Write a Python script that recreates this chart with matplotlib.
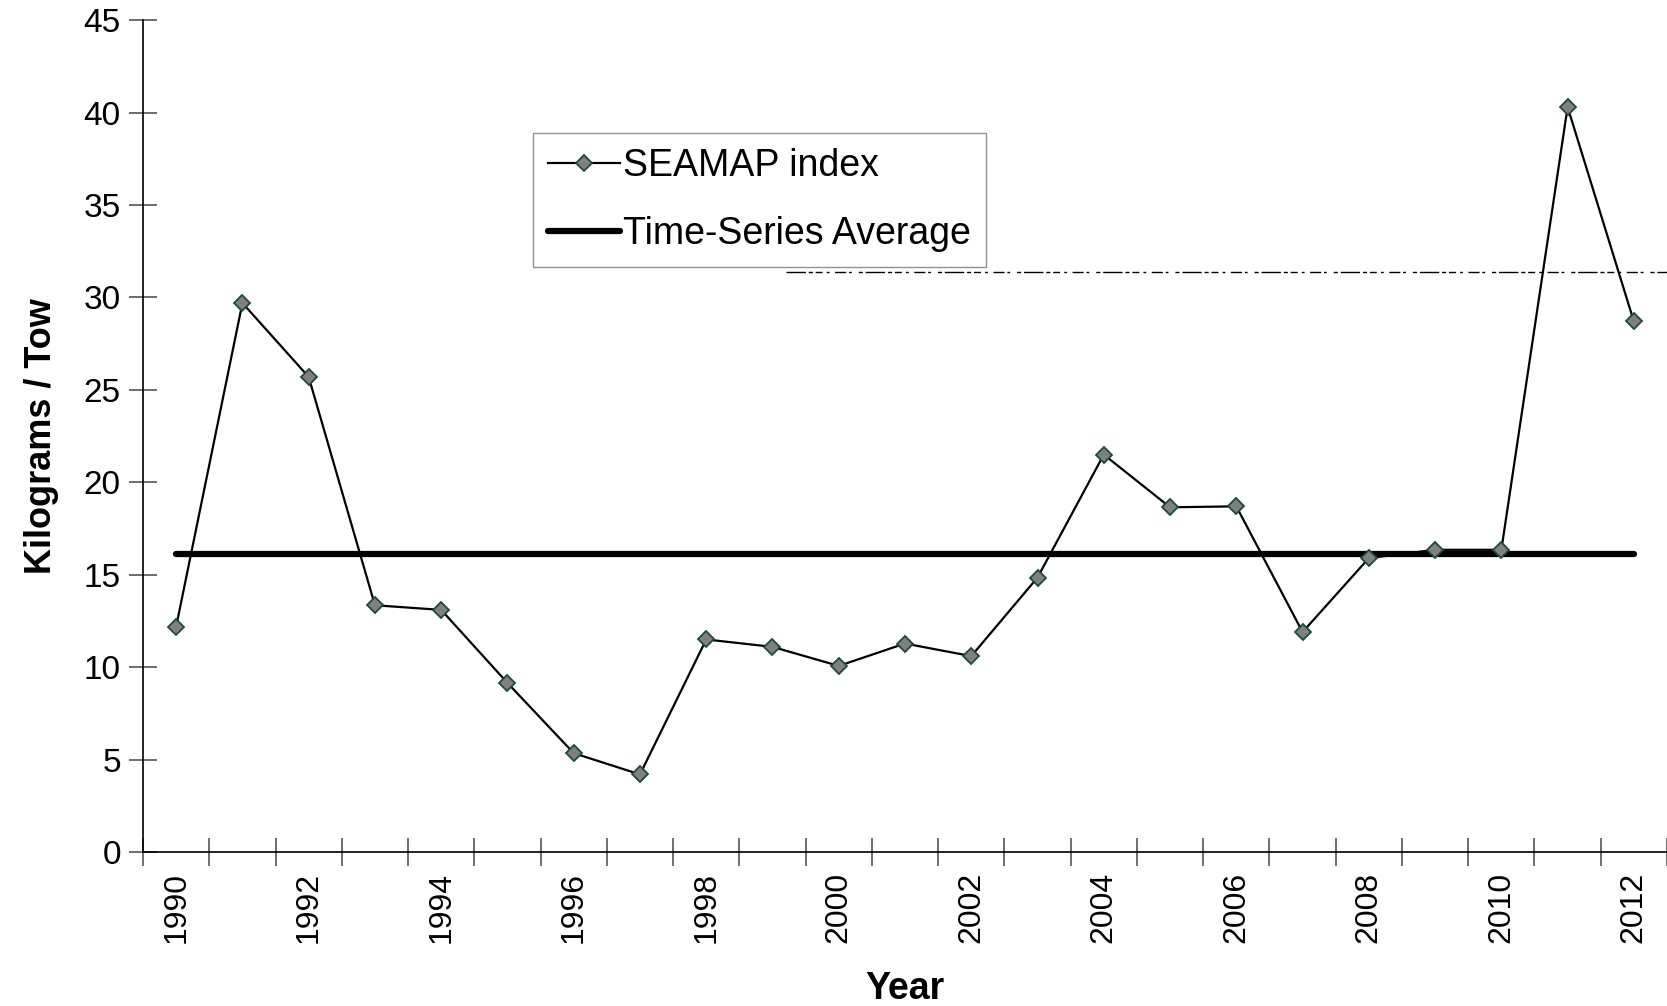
import numpy as np
import matplotlib.pyplot as plt

plt.rcParams['font.family'] = ['Liberation Sans', 'DejaVu Sans']

# SEAMAP index (kg / tow) by year
years = list(range(1990, 2013))
seamap_index = [12.2, 29.7, 25.7, 13.35, 13.1, 9.15, 5.35, 4.2, 11.5, 11.1,
                10.07, 11.28, 10.6, 14.85, 21.5, 18.65, 18.7, 11.9, 15.9,
                16.35, 16.35, 40.3, 28.7]
ts_average = 16.1
# faint dashed artifact line present in the original
artifact_level = 31.4
artifact_start_year = 1999.2

fig = plt.figure(figsize=(16.67, 10.06), dpi=100)
ax = fig.add_axes([0.0858, 0.153, 0.9142, 0.827])

x = np.arange(len(years))

ax.plot(x, seamap_index, color='black', linewidth=1.6, marker='D',
        markersize=8, markerfacecolor='#808080', markeredgecolor='#1f4a3a',
        markeredgewidth=1.3, label='SEAMAP index', zorder=3)
ax.plot([x[0], x[-1]], [ts_average, ts_average], color='black', linewidth=4.5,
        solid_capstyle='round', label='Time-Series Average', zorder=2)
ax.plot([artifact_start_year - years[0], len(years) - 0.5], [artifact_level] * 2,
        color='black', linewidth=1.0,
        dashes=(14, 2, 3, 2, 5, 3, 2, 4, 8, 2, 2, 5, 3, 2),
        zorder=1)

ax.set_xlim(-0.5, len(years) - 0.5)
ax.set_ylim(0, 45)
ax.set_yticks(np.arange(0, 46, 5))

# category axis: tick marks at boundaries, labels every other year at centers
ax.set_xticks(np.arange(-0.5, len(years), 1.0))
ax.set_xticklabels([])
ax.set_xticks(x[::2], minor=True)
ax.set_xticklabels([str(y) for y in years[::2]], minor=True, rotation=90,
                   fontsize=23)
ax.tick_params(axis='x', which='major', direction='inout', length=20,
               width=1.2, color='#555555')
ax.tick_params(axis='x', which='minor', length=0, pad=14)
ax.tick_params(axis='y', direction='inout', length=20, width=1.2,
               color='#555555', labelsize=24, pad=6)

for side in ['top', 'right']:
    ax.spines[side].set_visible(False)
ax.spines['left'].set_linewidth(1.2)
ax.spines['bottom'].set_linewidth(1.2)

ax.set_ylabel('Kilograms / Tow', fontsize=26, fontweight='bold', labelpad=18)
ax.set_xlabel('Year', fontsize=27, fontweight='bold', labelpad=20)

leg = ax.legend(loc='upper left', bbox_to_anchor=(0.320, 0.868),
                bbox_transform=fig.transFigure, fontsize=27, frameon=True,
                fancybox=False, edgecolor='#777777', handlelength=1.9,
                handletextpad=0.1, borderpad=0.4, labelspacing=0.85,
                borderaxespad=0)
leg.get_frame().set_linewidth(1.0)

fig.savefig('out.png', dpi=100)
